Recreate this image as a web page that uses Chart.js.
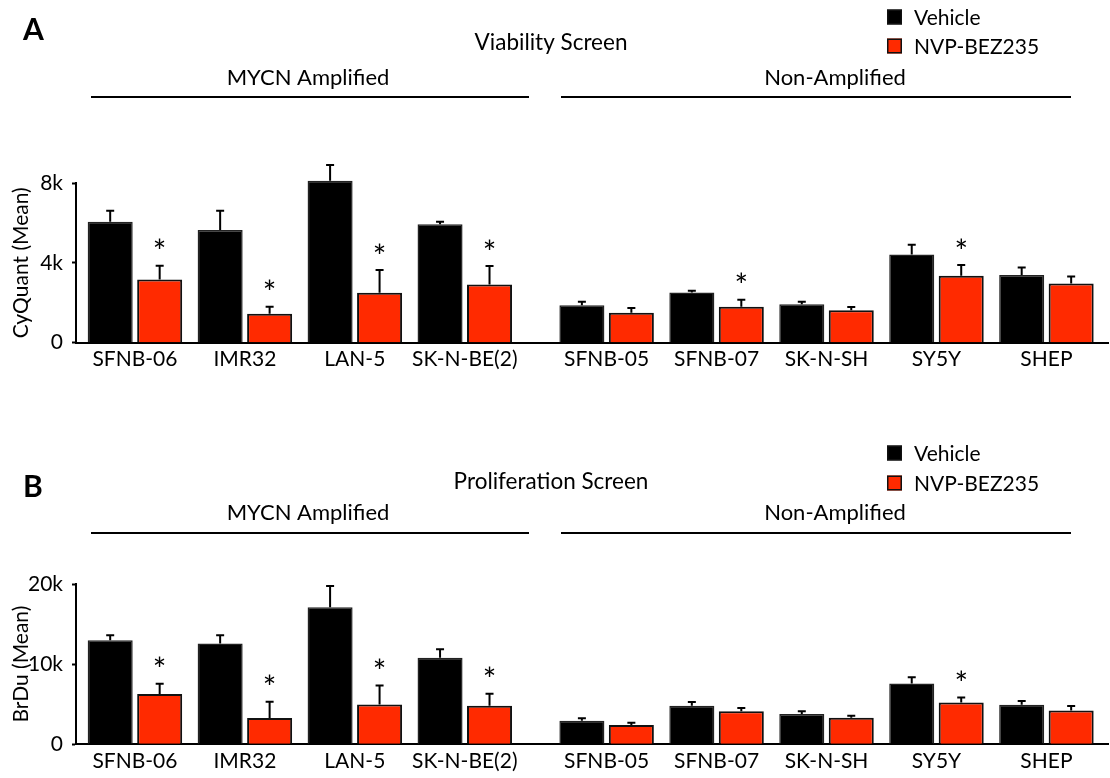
<!DOCTYPE html>
<html>
<head>
<meta charset="utf-8">
<script src="https://cdn.jsdelivr.net/npm/chart.js@4.4.1/dist/chart.umd.min.js"></script>
<style>
  html, body { margin: 0; padding: 0; background: #fff; }
  #wrap { position: relative; width: 1110px; height: 778px; }
  .panel { position: absolute; left: 0; width: 1110px; }
</style>
</head>
<body>
<div id="wrap">
  <div class="panel" style="top:0;height:400px"><canvas id="plotA"></canvas></div>
  <div class="panel" style="top:400px;height:378px"><canvas id="plotB"></canvas></div>
</div>
<script>
// lineas celulares (las 4 primeras son MYCN amplificadas)
const lineas = ['SFNB-06', 'IMR32', 'LAN-5', 'SK-N-BE(2)', 'SFNB-05', 'SFNB-07', 'SK-N-SH', 'SY5Y', 'SHEP'];
const series = ['Vehicle', 'NVP-BEZ235'];
const grupos = ['MYCN Amplified', 'Non-Amplified'];

// A: Viability Screen (CyQuant)
const vehiculoA    = [6060, 5640, 8110, 5930, 1870, 2520, 1920, 4420, 3390];
const errVehiculoA = [ 550,  970,  790,  130,  180,   80,  130,  490,  380];
const farmacoA     = [3170, 1450, 2500, 2920, 1500, 1800, 1620, 3360, 2970];
const errFarmacoA  = [ 690,  350, 1140,  920,  240,  350,  170,  530,  350];
const sigA         = [1, 1, 1, 1, 0, 1, 0, 1, 0];
const ticksA       = [0, 4000, 8000];
const etiquetasA   = ['0', '4k', '8k'];

// B: Proliferation Screen (BrDu)
const vehiculoB    = [12990, 12570, 17100, 10790, 2950, 4810, 3780, 7590, 4940];
const errVehiculoB = [  610,  1030,  2650,  1080,  290,  460,  330,  790,  450];
const farmacoB     = [ 6270,  3280,  4980,  4810, 2410, 4110, 3320, 5230, 4230];
const errFarmacoB  = [ 1280,  2030,  2360,  1500,  290,  410,  250,  620,  540];
const sigB         = [1, 1, 1, 1, 0, 0, 0, 1, 0];
const ticksB       = [0, 10000, 20000];
const etiquetasB   = ['0', '10k', '20k'];

const ROJO = '#ff2a00';
const FUENTE = 'Lato, "Open Sans", sans-serif';
const GAP = 0.29;   // espacio extra entre los dos grupos
let posicion = i => i + (i >= 4 ? GAP : 0);

// barras de error (solo hacia arriba) y asteriscos
const barrasError = {
  id: 'barrasError',
  afterDatasetsDraw(chart) {
    const ctx = chart.ctx;
    const escalaY = chart.scales.y;
    chart.data.datasets.forEach((ds, d) => {
      const meta = chart.getDatasetMeta(d);
      meta.data.forEach((barra, i) => {
        const tope = escalaY.getPixelForValue(ds.data[i].y + ds.errores[i]);
        ctx.save();
        ctx.strokeStyle = '#000';
        ctx.lineWidth = 2;
        ctx.beginPath();
        ctx.moveTo(barra.x, barra.y);
        ctx.lineTo(barra.x, tope);
        ctx.moveTo(barra.x - 4, tope);
        ctx.lineTo(barra.x + 4, tope);
        ctx.stroke();
        if (ds.sig && ds.sig[i]) {
          ctx.fillStyle = '#000';
          ctx.font = '32px ' + FUENTE;
          ctx.textAlign = 'center';
          ctx.textBaseline = 'alphabetic';
          // centrar el glifo unos 22 px sobre la barra de error
          const m = ctx.measureText('*');
          const centro = (m.actualBoundingBoxAscent - m.actualBoundingBoxDescent) / 2;
          ctx.fillText('*', barra.x, tope - 22 + centro);
        }
        ctx.restore();
      });
    });
  }
};

// letra del panel, titulo, grupos con sus lineas y leyenda
let encabezado = (p) => ({
  id: 'encabezado',
  afterDraw(chart) {
    const ctx = chart.ctx;
    ctx.save();
    ctx.fillStyle = '#000';
    ctx.textBaseline = 'middle';

    ctx.font = 'bold 30px ' + FUENTE;
    ctx.textAlign = 'left';
    ctx.fillText(p.letra, 23, p.yLetra);

    ctx.textAlign = 'center';
    ctx.font = '22.5px ' + FUENTE;
    ctx.fillText(p.titulo, 551, p.yTitulo);
    ctx.font = '22px ' + FUENTE;
    ctx.fillText(grupos[0], 308, p.yGrupo);
    ctx.fillText(grupos[1], 835, p.yGrupo);

    ctx.strokeStyle = '#000';
    ctx.lineWidth = 2;
    ctx.beginPath();
    ctx.moveTo(91, p.yLinea); ctx.lineTo(529, p.yLinea);
    ctx.moveTo(561, p.yLinea); ctx.lineTo(1071, p.yLinea);
    ctx.stroke();

    // leyenda
    const colores = ['#000', ROJO];
    ctx.font = '21px ' + FUENTE;
    series.forEach((s, k) => {
      const yc = p.yLeyenda[k];
      ctx.fillStyle = colores[k];
      ctx.fillRect(887, yc - 7.5, 15, 15);
      ctx.strokeStyle = '#111';
      ctx.lineWidth = 1.5;
      ctx.strokeRect(887.75, yc - 6.75, 13.5, 13.5);
      ctx.fillStyle = '#000';
      ctx.textAlign = 'left';
      ctx.fillText(s, 914, yc + 1);
    });
    ctx.restore();
  }
});

let crearPanel = (id, p) => {
  const datos = vals => vals.map((v, i) => ({x: posicion(i), y: v}));
  const config = {
    type: 'bar',
    data: {
      datasets: [
        {
          label: series[0], data: datos(p.vehiculo), errores: p.errVehiculo, sig: null,
          backgroundColor: '#000', borderColor: '#222', borderWidth: 1.5,
          categoryPercentage: 0.9, barPercentage: 0.91, clip: false
        },
        {
          label: series[1], data: datos(p.farmaco), errores: p.errFarmaco, sig: p.sig,
          backgroundColor: ROJO, borderColor: '#111', borderWidth: 2,
          categoryPercentage: 0.9, barPercentage: 0.91, clip: false
        }
      ]
    },
    options: {
      responsive: true,
      maintainAspectRatio: false,
      animation: false,
      layout: { padding: { top: p.arriba, right: 2, left: 0, bottom: 0 } },
      plugins: { legend: { display: false }, tooltip: { enabled: false } },
      scales: {
        x: {
          type: 'linear',
          offset: false,
          min: -0.536,
          max: 8.85,
          grid: { display: false, drawTicks: false },
          border: { color: '#000', width: 2 },
          afterBuildTicks: s => { s.ticks = lineas.map((_, i) => ({ value: posicion(i) })); },
          afterFit: s => { s.height = p.altoX; },
          ticks: {
            autoSkip: false, maxRotation: 0, padding: 4, color: '#000',
            font: { family: FUENTE, size: 21 },
            callback: (v, i) => lineas[i]
          }
        },
        y: {
          min: 0,
          max: p.ticks[p.ticks.length - 1],
          grid: { drawOnChartArea: false, drawTicks: true, tickLength: 4, tickWidth: 2, tickColor: '#000' },
          border: { color: '#000', width: 2 },
          afterBuildTicks: s => { s.ticks = p.ticks.map(v => ({ value: v })); },
          afterFit: s => { s.width = 76; },
          ticks: {
            padding: 9, color: '#000',
            font: { family: FUENTE, size: 21 },
            callback: (v, i) => p.etiquetas[i]
          },
          title: {
            display: true, text: p.tituloY, color: '#000',
            font: { family: FUENTE, size: 21 },
            padding: { top: 9, bottom: 0 }
          }
        }
      }
    },
    plugins: [barrasError, encabezado(p)]
  };
  return new Chart(document.getElementById(id), config);
};

crearPanel('plotA', {
  vehiculo: vehiculoA, errVehiculo: errVehiculoA, farmaco: farmacoA, errFarmaco: errFarmacoA, sig: sigA,
  ticks: ticksA, etiquetas: etiquetasA, tituloY: 'CyQuant (Mean)',
  letra: 'A', titulo: 'Viability Screen',
  yLetra: 30, yTitulo: 43, yGrupo: 78, yLinea: 97, yLeyenda: [17, 46],
  arriba: 183, altoX: 57.3
});

crearPanel('plotB', {
  vehiculo: vehiculoB, errVehiculo: errVehiculoB, farmaco: farmacoB, errFarmaco: errFarmacoB, sig: sigB,
  ticks: ticksB, etiquetas: etiquetasB, tituloY: 'BrDu (Mean)',
  letra: 'B', titulo: 'Proliferation Screen',
  yLetra: 87, yTitulo: 82, yGrupo: 113, yLinea: 133, yLeyenda: [53, 83],
  arriba: 184, altoX: 33.7
});
</script>
</body>
</html>
